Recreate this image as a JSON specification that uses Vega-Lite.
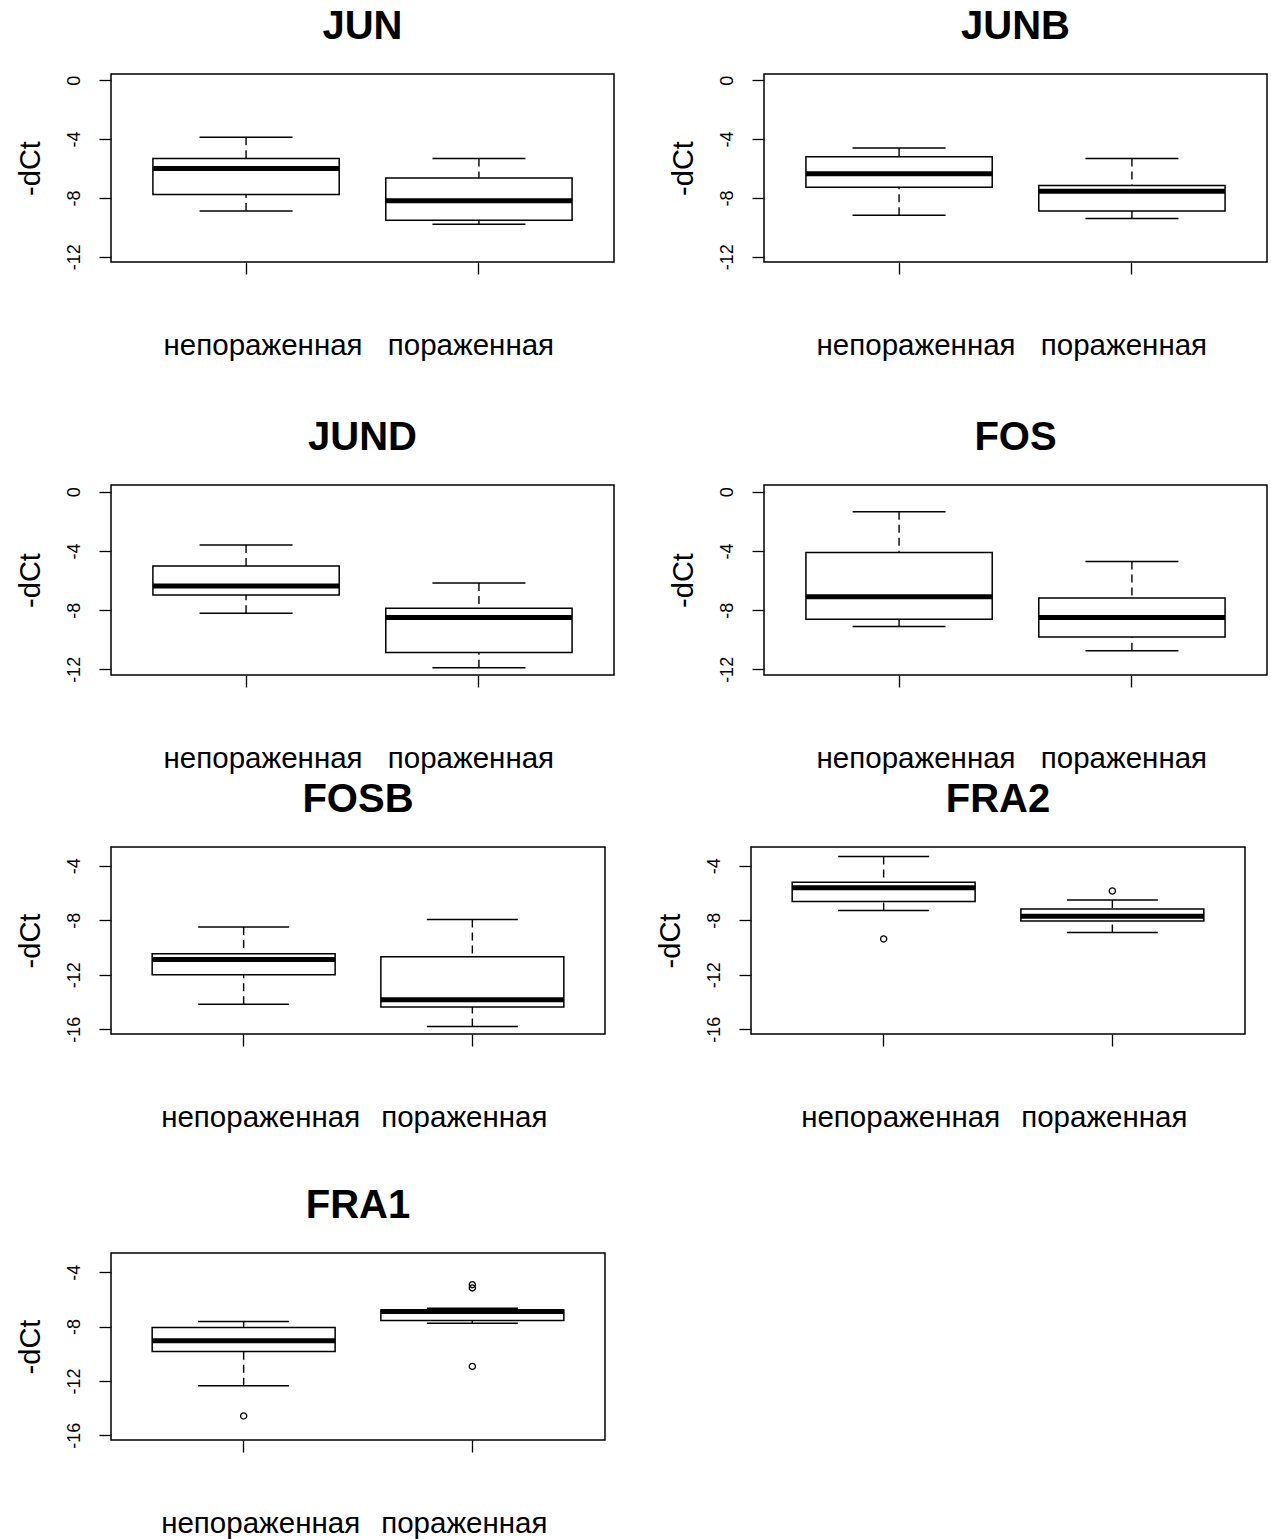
{
  "$schema": "https://vega.github.io/schema/vega-lite/v6.json",
  "background": "white",
  "padding": {"left": 15, "top": 6, "right": 0, "bottom": 0},
  "datasets": {
    "boxes": [
      {"gene": "JUN", "group": "непораженная", "lower": -8.88, "q1": -7.76, "median": -6.0, "q3": -5.32, "upper": -3.88},
      {"gene": "JUN", "group": "пораженная", "lower": -9.78, "q1": -9.51, "median": -8.19, "q3": -6.64, "upper": -5.32},
      {"gene": "JUNB", "group": "непораженная", "lower": -9.17, "q1": -7.27, "median": -6.35, "q3": -5.2, "upper": -4.6},
      {"gene": "JUNB", "group": "пораженная", "lower": -9.4, "q1": -8.88, "median": -7.54, "q3": -7.16, "upper": -5.32},
      {"gene": "JUND", "group": "непораженная", "lower": -8.21, "q1": -6.98, "median": -6.37, "q3": -5.02, "upper": -3.61},
      {"gene": "JUND", "group": "пораженная", "lower": -11.89, "q1": -10.86, "median": -8.5, "q3": -7.87, "upper": -6.17},
      {"gene": "FOS", "group": "непораженная", "lower": -9.11, "q1": -8.61, "median": -7.09, "q3": -4.1, "upper": -1.35},
      {"gene": "FOS", "group": "пораженная", "lower": -10.74, "q1": -9.82, "median": -8.5, "q3": -7.18, "upper": -4.71},
      {"gene": "FOSB", "group": "непораженная", "lower": -14.17, "q1": -12.0, "median": -10.88, "q3": -10.46, "upper": -8.49},
      {"gene": "FOSB", "group": "пораженная", "lower": -15.8, "q1": -14.37, "median": -13.83, "q3": -10.68, "upper": -7.95},
      {"gene": "FRA2", "group": "непораженная", "lower": -7.29, "q1": -6.63, "median": -5.61, "q3": -5.2, "upper": -3.32},
      {"gene": "FRA2", "group": "пораженная", "lower": -8.9, "q1": -8.05, "median": -7.71, "q3": -7.17, "upper": -6.51},
      {"gene": "FRA1", "group": "непораженная", "lower": -12.35, "q1": -9.83, "median": -9.05, "q3": -8.07, "upper": -7.62},
      {"gene": "FRA1", "group": "пораженная", "lower": -7.75, "q1": -7.55, "median": -6.89, "q3": -6.77, "upper": -6.65}
    ],
    "outliers": [
      {"gene": "FRA2", "group": "непораженная", "value": -9.37},
      {"gene": "FRA2", "group": "пораженная", "value": -5.85},
      {"gene": "FRA1", "group": "непораженная", "value": -14.58},
      {"gene": "FRA1", "group": "пораженная", "value": -4.91},
      {"gene": "FRA1", "group": "пораженная", "value": -5.15},
      {"gene": "FRA1", "group": "пораженная", "value": -10.93}
    ]
  },
  "config": {
    "view": {"stroke": "black", "strokeWidth": 1.5},
    "font": "Liberation Sans",
    "tick": {"opacity": 1},
    "point": {"opacity": 1},
    "title": {"font": "Liberation Sans", "fontSize": 40, "fontWeight": "bold", "color": "black", "anchor": "middle", "frame": "group", "baseline": "alphabetic", "offset": 27},
    "axis": {"grid": false, "domain": false, "tickColor": "black", "tickWidth": 1.3, "tickSize": 12, "labelColor": "black", "labelFont": "Liberation Sans", "titleFont": "Liberation Sans", "titleColor": "black", "titleFontWeight": "normal"},
    "axisX": {"labelAngle": 0, "labelFontSize": 29.5, "labelPadding": 57, "labelBaseline": "top", "labelLimit": 0},
    "axisY": {"labelAngle": -90, "labelAlign": "center", "labelBaseline": "bottom", "labelFontSize": 18, "labelPadding": 16, "titleFontSize": 29, "titlePadding": 20}
  },
  "spacing": 5,
  "vconcat": [
    {
      "spacing": 56,
      "vconcat": [
        {
          "spacing": 53,
          "hconcat": [
            {
              "title": "JUN", "width": 503, "height": 188,
              "data": {"name": "boxes"},
              "transform": [{"filter": "datum.gene === 'JUN'"}],
              "encoding": {"x": {"field": "group", "type": "nominal", "sort": ["непораженная", "пораженная"], "scale": {"type": "band", "paddingInner": 0.2, "paddingOuter": 0.18}, "axis": {"title": null, "labelOffset": {"condition": {"test": "datum.value === 'непораженная'", "value": 17}, "value": -8}}}},
              "layer": [
                {"mark": {"type": "rule", "strokeDash": [8, 5], "strokeWidth": 1.4, "color": "black"}, "encoding": {"y": {"field": "upper", "type": "quantitative", "scale": {"domain": [-12.35, 0.42], "nice": false, "zero": false}, "axis": {"title": "-dCt", "values": [0, -2, -4, -6, -8, -10, -12], "labelExpr": "datum.value % 4 == 0 ? '' + datum.value : ''"}}, "y2": {"field": "q3"}}},
                {"mark": {"type": "rule", "strokeDash": [8, 5], "strokeWidth": 1.4, "color": "black"}, "encoding": {"y": {"field": "lower", "type": "quantitative"}, "y2": {"field": "q1"}}},
                {"mark": {"type": "tick", "size": 93, "thickness": 1.5, "color": "black"}, "encoding": {"y": {"field": "upper", "type": "quantitative"}}},
                {"mark": {"type": "tick", "size": 93, "thickness": 1.5, "color": "black"}, "encoding": {"y": {"field": "lower", "type": "quantitative"}}},
                {"mark": {"type": "bar", "fill": "white", "stroke": "black", "strokeWidth": 1.5}, "encoding": {"y": {"field": "q1", "type": "quantitative"}, "y2": {"field": "q3"}}},
                {"mark": {"type": "tick", "size": 186, "thickness": 5, "color": "black"}, "encoding": {"y": {"field": "median", "type": "quantitative"}}}
              ]
            },
            {
              "title": "JUNB", "width": 503, "height": 188,
              "data": {"name": "boxes"},
              "transform": [{"filter": "datum.gene === 'JUNB'"}],
              "encoding": {"x": {"field": "group", "type": "nominal", "sort": ["непораженная", "пораженная"], "scale": {"type": "band", "paddingInner": 0.2, "paddingOuter": 0.18}, "axis": {"title": null, "labelOffset": {"condition": {"test": "datum.value === 'непораженная'", "value": 17}, "value": -8}}}},
              "layer": [
                {"mark": {"type": "rule", "strokeDash": [8, 5], "strokeWidth": 1.4, "color": "black"}, "encoding": {"y": {"field": "upper", "type": "quantitative", "scale": {"domain": [-12.35, 0.42], "nice": false, "zero": false}, "axis": {"title": "-dCt", "values": [0, -2, -4, -6, -8, -10, -12], "labelExpr": "datum.value % 4 == 0 ? '' + datum.value : ''"}}, "y2": {"field": "q3"}}},
                {"mark": {"type": "rule", "strokeDash": [8, 5], "strokeWidth": 1.4, "color": "black"}, "encoding": {"y": {"field": "lower", "type": "quantitative"}, "y2": {"field": "q1"}}},
                {"mark": {"type": "tick", "size": 93, "thickness": 1.5, "color": "black"}, "encoding": {"y": {"field": "upper", "type": "quantitative"}}},
                {"mark": {"type": "tick", "size": 93, "thickness": 1.5, "color": "black"}, "encoding": {"y": {"field": "lower", "type": "quantitative"}}},
                {"mark": {"type": "bar", "fill": "white", "stroke": "black", "strokeWidth": 1.5}, "encoding": {"y": {"field": "q1", "type": "quantitative"}, "y2": {"field": "q3"}}},
                {"mark": {"type": "tick", "size": 186, "thickness": 5, "color": "black"}, "encoding": {"y": {"field": "median", "type": "quantitative"}}}
              ]
            }
          ]
        },
        {
          "spacing": 53,
          "hconcat": [
            {
              "title": "JUND", "width": 503, "height": 190,
              "data": {"name": "boxes"},
              "transform": [{"filter": "datum.gene === 'JUND'"}],
              "encoding": {"x": {"field": "group", "type": "nominal", "sort": ["непораженная", "пораженная"], "scale": {"type": "band", "paddingInner": 0.2, "paddingOuter": 0.18}, "axis": {"title": null, "labelOffset": {"condition": {"test": "datum.value === 'непораженная'", "value": 17}, "value": -8}}}},
              "layer": [
                {"mark": {"type": "rule", "strokeDash": [8, 5], "strokeWidth": 1.4, "color": "black"}, "encoding": {"y": {"field": "upper", "type": "quantitative", "scale": {"domain": [-12.38, 0.45], "nice": false, "zero": false}, "axis": {"title": "-dCt", "values": [0, -2, -4, -6, -8, -10, -12], "labelExpr": "datum.value % 4 == 0 ? '' + datum.value : ''"}}, "y2": {"field": "q3"}}},
                {"mark": {"type": "rule", "strokeDash": [8, 5], "strokeWidth": 1.4, "color": "black"}, "encoding": {"y": {"field": "lower", "type": "quantitative"}, "y2": {"field": "q1"}}},
                {"mark": {"type": "tick", "size": 93, "thickness": 1.5, "color": "black"}, "encoding": {"y": {"field": "upper", "type": "quantitative"}}},
                {"mark": {"type": "tick", "size": 93, "thickness": 1.5, "color": "black"}, "encoding": {"y": {"field": "lower", "type": "quantitative"}}},
                {"mark": {"type": "bar", "fill": "white", "stroke": "black", "strokeWidth": 1.5}, "encoding": {"y": {"field": "q1", "type": "quantitative"}, "y2": {"field": "q3"}}},
                {"mark": {"type": "tick", "size": 186, "thickness": 5, "color": "black"}, "encoding": {"y": {"field": "median", "type": "quantitative"}}}
              ]
            },
            {
              "title": "FOS", "width": 503, "height": 190,
              "data": {"name": "boxes"},
              "transform": [{"filter": "datum.gene === 'FOS'"}],
              "encoding": {"x": {"field": "group", "type": "nominal", "sort": ["непораженная", "пораженная"], "scale": {"type": "band", "paddingInner": 0.2, "paddingOuter": 0.18}, "axis": {"title": null, "labelOffset": {"condition": {"test": "datum.value === 'непораженная'", "value": 17}, "value": -8}}}},
              "layer": [
                {"mark": {"type": "rule", "strokeDash": [8, 5], "strokeWidth": 1.4, "color": "black"}, "encoding": {"y": {"field": "upper", "type": "quantitative", "scale": {"domain": [-12.38, 0.45], "nice": false, "zero": false}, "axis": {"title": "-dCt", "values": [0, -2, -4, -6, -8, -10, -12], "labelExpr": "datum.value % 4 == 0 ? '' + datum.value : ''"}}, "y2": {"field": "q3"}}},
                {"mark": {"type": "rule", "strokeDash": [8, 5], "strokeWidth": 1.4, "color": "black"}, "encoding": {"y": {"field": "lower", "type": "quantitative"}, "y2": {"field": "q1"}}},
                {"mark": {"type": "tick", "size": 93, "thickness": 1.5, "color": "black"}, "encoding": {"y": {"field": "upper", "type": "quantitative"}}},
                {"mark": {"type": "tick", "size": 93, "thickness": 1.5, "color": "black"}, "encoding": {"y": {"field": "lower", "type": "quantitative"}}},
                {"mark": {"type": "bar", "fill": "white", "stroke": "black", "strokeWidth": 1.5}, "encoding": {"y": {"field": "q1", "type": "quantitative"}, "y2": {"field": "q3"}}},
                {"mark": {"type": "tick", "size": 186, "thickness": 5, "color": "black"}, "encoding": {"y": {"field": "median", "type": "quantitative"}}}
              ]
            }
          ]
        }
      ]
    },
    {
      "spacing": 52,
      "vconcat": [
        {
          "spacing": 49,
          "hconcat": [
            {
              "title": "FOSB", "width": 494, "height": 187,
              "data": {"name": "boxes"},
              "transform": [{"filter": "datum.gene === 'FOSB'"}],
              "encoding": {"x": {"field": "group", "type": "nominal", "sort": ["непораженная", "пораженная"], "scale": {"type": "band", "paddingInner": 0.2, "paddingOuter": 0.18}, "axis": {"title": null, "labelOffset": {"condition": {"test": "datum.value === 'непораженная'", "value": 17}, "value": -8}}}},
              "layer": [
                {"mark": {"type": "rule", "strokeDash": [8, 5], "strokeWidth": 1.4, "color": "black"}, "encoding": {"y": {"field": "upper", "type": "quantitative", "scale": {"domain": [-16.35, -2.62], "nice": false, "zero": false}, "axis": {"title": "-dCt", "values": [-4, -6, -8, -10, -12, -14, -16], "labelExpr": "datum.value % 4 == 0 ? '' + datum.value : ''"}}, "y2": {"field": "q3"}}},
                {"mark": {"type": "rule", "strokeDash": [8, 5], "strokeWidth": 1.4, "color": "black"}, "encoding": {"y": {"field": "lower", "type": "quantitative"}, "y2": {"field": "q1"}}},
                {"mark": {"type": "tick", "size": 91, "thickness": 1.5, "color": "black"}, "encoding": {"y": {"field": "upper", "type": "quantitative"}}},
                {"mark": {"type": "tick", "size": 91, "thickness": 1.5, "color": "black"}, "encoding": {"y": {"field": "lower", "type": "quantitative"}}},
                {"mark": {"type": "bar", "fill": "white", "stroke": "black", "strokeWidth": 1.5}, "encoding": {"y": {"field": "q1", "type": "quantitative"}, "y2": {"field": "q3"}}},
                {"mark": {"type": "tick", "size": 183, "thickness": 5, "color": "black"}, "encoding": {"y": {"field": "median", "type": "quantitative"}}}
              ]
            },
            {
              "title": "FRA2", "width": 494, "height": 187,
              "encoding": {"x": {"field": "group", "type": "nominal", "sort": ["непораженная", "пораженная"], "scale": {"type": "band", "paddingInner": 0.2, "paddingOuter": 0.18}, "axis": {"title": null, "labelOffset": {"condition": {"test": "datum.value === 'непораженная'", "value": 17}, "value": -8}}}},
              "layer": [
                {"data": {"name": "boxes"}, "transform": [{"filter": "datum.gene === 'FRA2'"}], "mark": {"type": "rule", "strokeDash": [8, 5], "strokeWidth": 1.4, "color": "black"}, "encoding": {"y": {"field": "upper", "type": "quantitative", "scale": {"domain": [-16.35, -2.62], "nice": false, "zero": false}, "axis": {"title": "-dCt", "values": [-4, -6, -8, -10, -12, -14, -16], "labelExpr": "datum.value % 4 == 0 ? '' + datum.value : ''"}}, "y2": {"field": "q3"}}},
                {"data": {"name": "boxes"}, "transform": [{"filter": "datum.gene === 'FRA2'"}], "mark": {"type": "rule", "strokeDash": [8, 5], "strokeWidth": 1.4, "color": "black"}, "encoding": {"y": {"field": "lower", "type": "quantitative"}, "y2": {"field": "q1"}}},
                {"data": {"name": "boxes"}, "transform": [{"filter": "datum.gene === 'FRA2'"}], "mark": {"type": "tick", "size": 91, "thickness": 1.5, "color": "black"}, "encoding": {"y": {"field": "upper", "type": "quantitative"}}},
                {"data": {"name": "boxes"}, "transform": [{"filter": "datum.gene === 'FRA2'"}], "mark": {"type": "tick", "size": 91, "thickness": 1.5, "color": "black"}, "encoding": {"y": {"field": "lower", "type": "quantitative"}}},
                {"data": {"name": "boxes"}, "transform": [{"filter": "datum.gene === 'FRA2'"}], "mark": {"type": "bar", "fill": "white", "stroke": "black", "strokeWidth": 1.5}, "encoding": {"y": {"field": "q1", "type": "quantitative"}, "y2": {"field": "q3"}}},
                {"data": {"name": "boxes"}, "transform": [{"filter": "datum.gene === 'FRA2'"}], "mark": {"type": "tick", "size": 183, "thickness": 5, "color": "black"}, "encoding": {"y": {"field": "median", "type": "quantitative"}}},
                {"data": {"name": "outliers"}, "transform": [{"filter": "datum.gene === 'FRA2'"}], "mark": {"type": "point", "shape": "circle", "filled": false, "stroke": "black", "strokeWidth": 1.3, "size": 38, "opacity": 1}, "encoding": {"y": {"field": "value", "type": "quantitative"}}}
              ]
            }
          ]
        },
        {
          "title": "FRA1", "width": 494, "height": 187,
          "encoding": {"x": {"field": "group", "type": "nominal", "sort": ["непораженная", "пораженная"], "scale": {"type": "band", "paddingInner": 0.2, "paddingOuter": 0.18}, "axis": {"title": null, "labelOffset": {"condition": {"test": "datum.value === 'непораженная'", "value": 17}, "value": -8}}}},
          "layer": [
            {"data": {"name": "boxes"}, "transform": [{"filter": "datum.gene === 'FRA1'"}], "mark": {"type": "rule", "strokeDash": [8, 5], "strokeWidth": 1.4, "color": "black"}, "encoding": {"y": {"field": "upper", "type": "quantitative", "scale": {"domain": [-16.35, -2.58], "nice": false, "zero": false}, "axis": {"title": "-dCt", "values": [-4, -6, -8, -10, -12, -14, -16], "labelExpr": "datum.value % 4 == 0 ? '' + datum.value : ''"}}, "y2": {"field": "q3"}}},
            {"data": {"name": "boxes"}, "transform": [{"filter": "datum.gene === 'FRA1'"}], "mark": {"type": "rule", "strokeDash": [8, 5], "strokeWidth": 1.4, "color": "black"}, "encoding": {"y": {"field": "lower", "type": "quantitative"}, "y2": {"field": "q1"}}},
            {"data": {"name": "boxes"}, "transform": [{"filter": "datum.gene === 'FRA1'"}], "mark": {"type": "tick", "size": 91, "thickness": 1.5, "color": "black"}, "encoding": {"y": {"field": "upper", "type": "quantitative"}}},
            {"data": {"name": "boxes"}, "transform": [{"filter": "datum.gene === 'FRA1'"}], "mark": {"type": "tick", "size": 91, "thickness": 1.5, "color": "black"}, "encoding": {"y": {"field": "lower", "type": "quantitative"}}},
            {"data": {"name": "boxes"}, "transform": [{"filter": "datum.gene === 'FRA1'"}], "mark": {"type": "bar", "fill": "white", "stroke": "black", "strokeWidth": 1.5}, "encoding": {"y": {"field": "q1", "type": "quantitative"}, "y2": {"field": "q3"}}},
            {"data": {"name": "boxes"}, "transform": [{"filter": "datum.gene === 'FRA1'"}], "mark": {"type": "tick", "size": 183, "thickness": 5, "color": "black"}, "encoding": {"y": {"field": "median", "type": "quantitative"}}},
            {"data": {"name": "outliers"}, "transform": [{"filter": "datum.gene === 'FRA1'"}], "mark": {"type": "point", "shape": "circle", "filled": false, "stroke": "black", "strokeWidth": 1.3, "size": 38, "opacity": 1}, "encoding": {"y": {"field": "value", "type": "quantitative"}}}
          ]
        }
      ]
    }
  ]
}
